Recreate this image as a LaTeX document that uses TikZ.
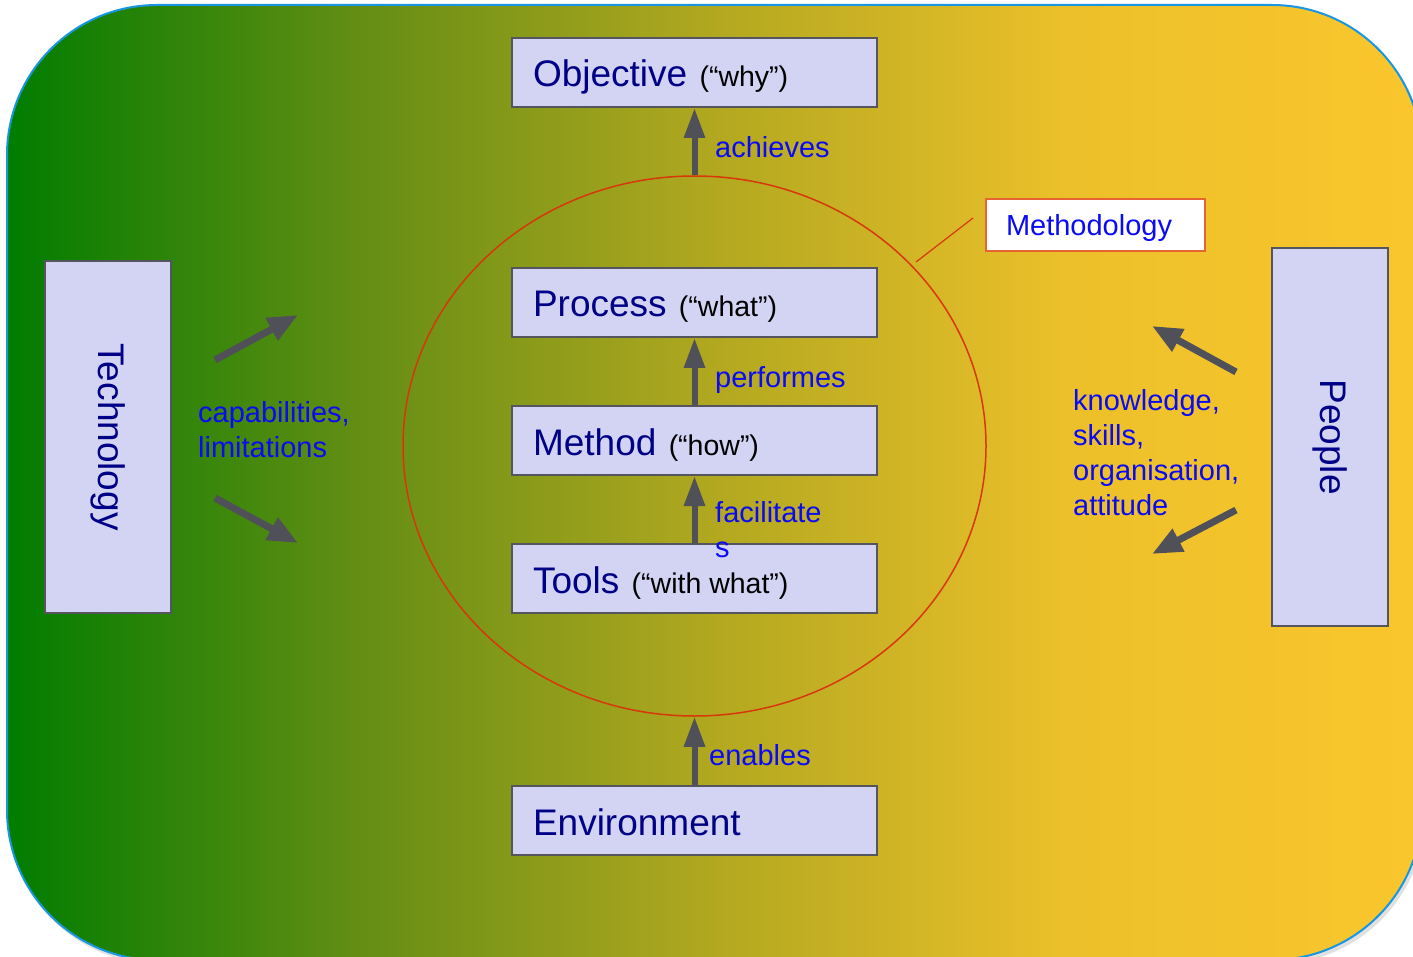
\documentclass[tikz,border=0pt]{standalone}
\usepackage{fontspec}
\setmainfont{Liberation Sans}
\usetikzlibrary{arrows.meta,shapes.geometric}
\definecolor{cA}{RGB}{0,125,0}
\definecolor{cB}{RGB}{100,142,20}
\definecolor{cC}{RGB}{178,168,32}
\definecolor{cD}{RGB}{236,192,42}
\definecolor{cE}{RGB}{250,198,45}
\definecolor{bgborder}{RGB}{25,150,225}
\definecolor{boxfill}{RGB}{211,211,243}
\definecolor{boxline}{RGB}{85,85,95}
\definecolor{arrowgray}{RGB}{80,80,88}
\definecolor{navy}{RGB}{0,0,135}
\definecolor{lblue}{RGB}{10,10,245}
\definecolor{methred}{RGB}{215,55,10}
\definecolor{methbox}{RGB}{230,100,50}
\pgfdeclarehorizontalshading{bgshade}{100bp}{color(0bp)=(cA); color(25bp)=(cA); color(37.5bp)=(cB); color(50bp)=(cC); color(62.5bp)=(cD); color(75bp)=(cE); color(100bp)=(cE)}
\newcommand{\smallpart}[1]{{\fontsize{28.5}{34}\selectfont\spaceskip=0pt\xspaceskip=0pt\color{black}#1}}
\begin{document}
\begin{tikzpicture}[x=1pt,y=-1pt,
  lbl/.style={font=\fontsize{29}{35}\selectfont, text=lblue, inner sep=0pt, align=left},
  mainbox/.style={draw=boxline, fill=boxfill, line width=2pt, minimum width=365pt, minimum height=69pt,
    text width=323pt, inner xsep=21pt, inner ysep=0pt, align=left, text height=29pt, text depth=0pt,
    font=\fontsize{37}{44}\selectfont, text=navy},
  sidebox/.style={draw=boxline, fill=boxfill, line width=2pt, rotate=-90, inner sep=0pt,
    font=\fontsize{37}{44}\selectfont, text=navy},
  bigarrow/.style={draw=arrowgray, line width=6pt, -{Triangle[length=30pt,width=20pt]}},
  diagarrow/.style={draw=arrowgray, line width=7pt, -{Triangle[length=30pt,width=24pt]}}
]
\useasboundingbox (0,0) rectangle (1413,957);
% background
\fill[black!30, opacity=0.4, rounded corners=150pt] (9,8) rectangle (1425,964);
\path[shading=bgshade, draw=bgborder, line width=2pt, rounded corners=150pt] (7,5) rectangle (1422,960);

% methodology ellipse
\node[ellipse, draw=methred, line width=1.5pt, minimum width=583pt, minimum height=540pt, inner sep=0pt] (circ) at (694.5,446) {};

% boxes
\node[mainbox] (obj) at (694.5,72.5) {Objective \smallpart{(“why”)}};
\node[mainbox] (proc) at (694.5,302.5) {Process \smallpart{(“what”)}};
\node[mainbox] (meth) at (694.5,440.5) {Method \smallpart{(“how”)}};
\node[mainbox] (tools) at (694.5,578.5) {Tools \smallpart{(“with what”)}};
\node[mainbox] (env) at (694.5,820.5) {Environment};

\node[sidebox, minimum width=352pt, minimum height=126pt] (tech) at (108,437) {Technology};
\node[sidebox, minimum width=378pt, minimum height=116pt] (people) at (1330,437) {People};

% methodology label
\node[draw=methbox, fill=white, line width=1.5pt, minimum width=219pt, minimum height=52pt,
  text width=179pt, inner xsep=20pt, inner ysep=0pt, align=left, text height=22pt, text depth=0pt,
  font=\fontsize{29}{35}\selectfont, text=lblue]
  (methlabel) at (1095.5,225) {Methodology};
\coordinate (ml1) at (916,262);
\coordinate (ml2) at (973,218);
\draw[methred, line width=1.2pt] (ml1) -- (ml2);

% vertical arrows
\draw[bigarrow] (circ.north) -- (obj.south);
\draw[bigarrow] (meth.north) -- (proc.south);
\draw[bigarrow] (tools.north) -- (meth.south);
\draw[bigarrow] (env.north) -- (circ.south);

\node[lbl, anchor=base west] (lach) at (715,158) {achieves};
\node[lbl, anchor=base west] (lperf) at (715,388) {performes};
\node[lbl, anchor=west] (lfac) at (715,530) {facilitate\\s};
\node[lbl, anchor=base west] (lena) at (709,765) {enables};

% diagonal arrows left
\coordinate (tl1) at (215,360);
\coordinate (tl2) at (298,315);
\coordinate (bl1) at (215,498);
\coordinate (bl2) at (298,543);
\draw[diagarrow] (tl1) -- (tl2);
\draw[diagarrow] (bl1) -- (bl2);
\node[lbl, anchor=west] (lcap) at (198,430) {capabilities,\\limitations};

% diagonal arrows right
\coordinate (tr1) at (1236,372);
\coordinate (tr2) at (1152,326);
\coordinate (br1) at (1236,510);
\coordinate (br2) at (1152,554);
\draw[diagarrow] (tr1) -- (tr2);
\draw[diagarrow] (br1) -- (br2);
\node[lbl, anchor=west] (lknow) at (1073,453) {knowledge,\\skills,\\organisation,\\attitude};
\end{tikzpicture}
\end{document}
